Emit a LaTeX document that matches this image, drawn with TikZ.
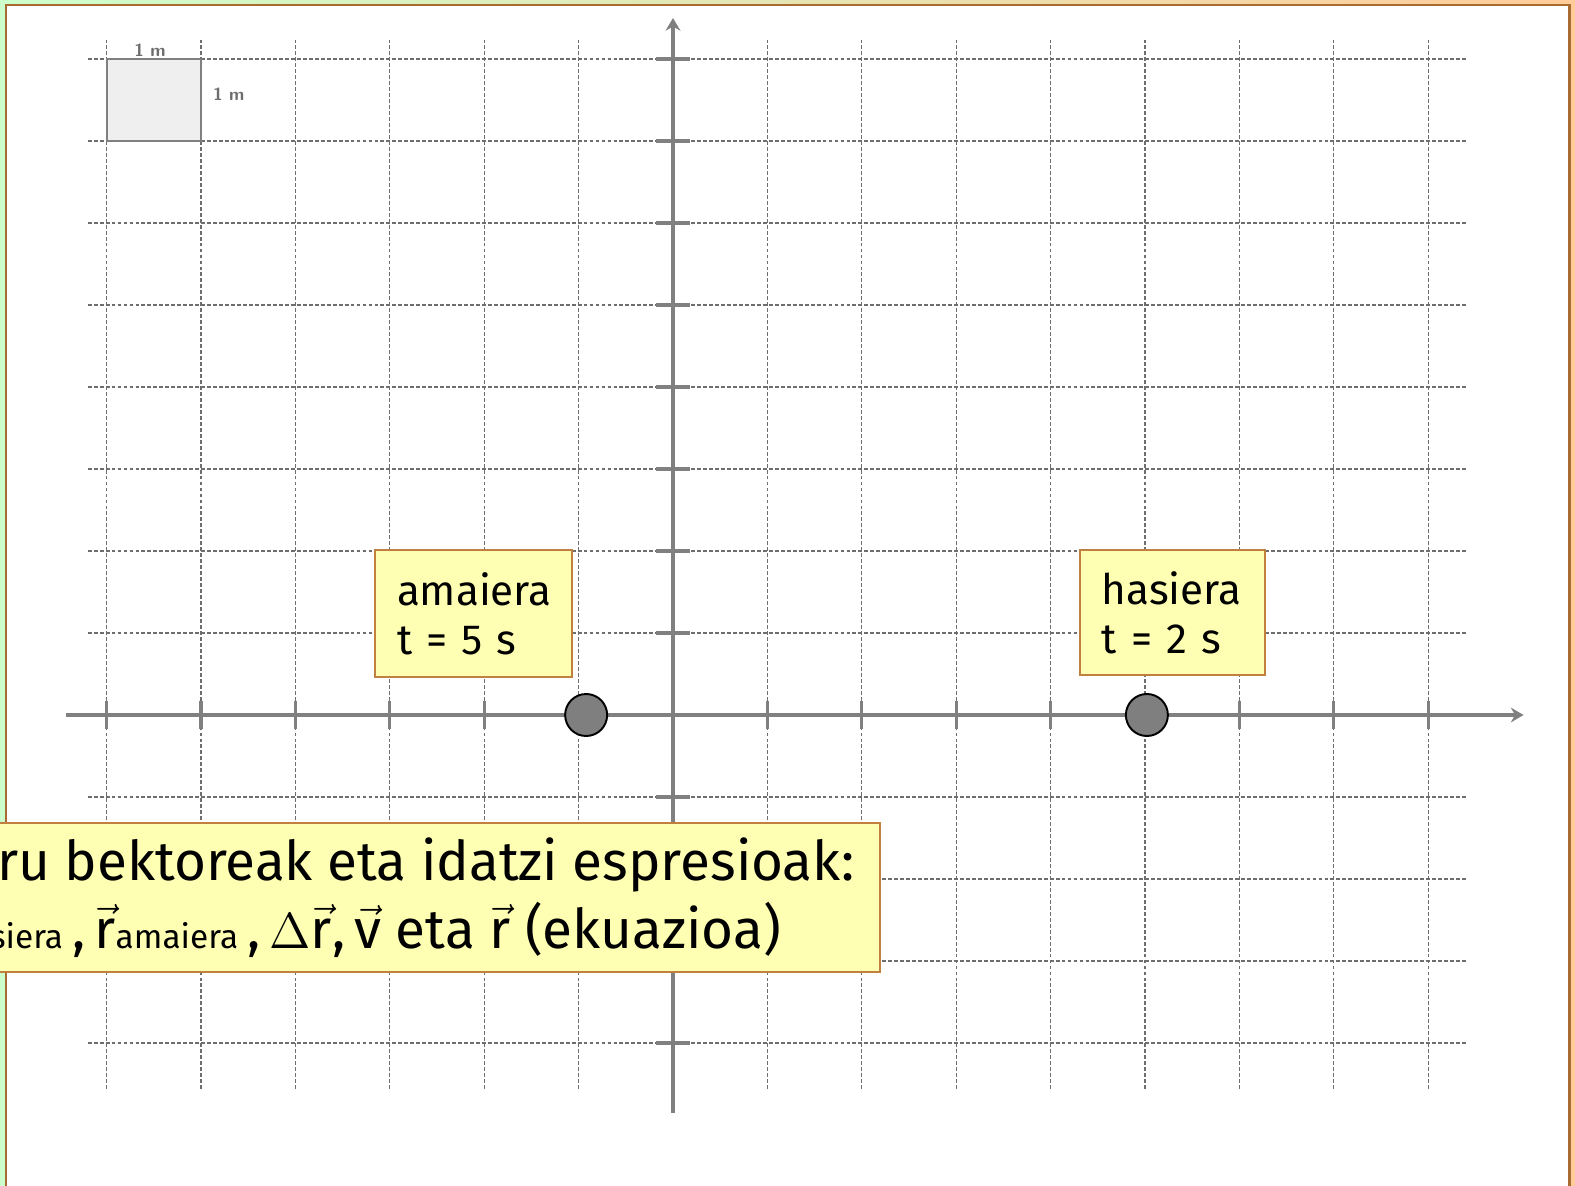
\documentclass[tikz,border=0pt]{standalone}
\usepackage{fontspec}
\setmainfont{Fira Sans}
\usetikzlibrary{arrows.meta, positioning}
\definecolor{bggreen}{RGB}{204,255,204}
\definecolor{bgorange}{RGB}{255,204,153}
\definecolor{framebrown}{RGB}{168,107,50}
\definecolor{gridgray}{RGB}{110,110,110}
\definecolor{axisgray}{RGB}{128,128,128}
\definecolor{dotgray}{RGB}{127,127,127}
\definecolor{boxfill}{RGB}{255,255,180}
\definecolor{boxedge}{RGB}{192,128,64}
\definecolor{unitfill}{RGB}{239,239,239}
\newcommand{\arrowed}[1]{$\vec{\mbox{#1}}$}

\begin{document}
\begin{tikzpicture}[
  gridline/.style={draw=gridgray, line width=0.35pt, dash pattern=on 1.1pt off 0.6pt},
  axisline/.style={draw=axisgray, line width=0.9pt},
  dot/.style={circle, draw=black, line width=0.55pt, fill=dotgray, minimum size=0.42cm, inner sep=0pt},
  tbox/.style={draw=boxedge, fill=boxfill, line width=0.45pt, align=left, inner xsep=0.22cm, font=\fontsize{12}{13.9}\selectfont},
  unitlabel/.style={text=gridgray, font=\sffamily\bfseries\fontsize{5}{6}\selectfont, inner sep=0pt}
]
  \useasboundingbox (0,0) rectangle (15.75,11.85);
  \clip (0,0) rectangle (15.75,11.85);
  \shade[left color=bggreen, right color=bgorange] (0,0) rectangle (15.75,11.85);
  \draw[framebrown, fill=white, line width=0.6pt] (0.06,-0.3) rectangle (15.695,11.80);

  \begin{scope}[shift={(6.73,4.70)}, x=0.944cm, y=0.82cm]
    \foreach \i in {-6,...,8}
      \draw[gridline] (\i,-4.56) -- (\i,8.23);
    \foreach \j in {-4,...,8}
      \draw[gridline] (-6.2,\j) -- (8.41,\j);

    \draw[draw=axisgray, fill=unitfill, line width=0.6pt] (-6,7) rectangle (-5,8);
    \node[unitlabel] (toplabel) at (-5.54,8.11) {1 m};
    \node[unitlabel, anchor=west] (sidelabel) at (-4.88,7.57) {1 m};

    \coordinate (xmin) at (-6.43,0);
    \coordinate (xmax) at (9.01,0);
    \coordinate (ymin) at (0,-4.85);
    \coordinate (ymax) at (0,8.50);
    \draw[axisline, -{Stealth[length=3.6pt, width=4.2pt]}] (xmin) -- (xmax);
    \draw[axisline, -{Stealth[length=3.6pt, width=4.2pt]}] (ymin) -- (ymax);
    \foreach \i in {-6,...,-1,1,2,...,8}
      \draw[axisline] (\i,-0.17) -- (\i,0.17);
    \foreach \j in {-4,...,-1,1,2,...,8}
      \draw[axisline] (-0.18,\j) -- (0.18,\j);

    \node[dot] (pend) at (-0.92,0) {};
    \node[dot] (pstart) at (5.02,0) {};

    \node[tbox, text width=1.53cm, minimum height=1.27cm] (amaiera) at (-2.113,1.238) {amaiera\\t = 5 s};
    \node[tbox, text width=1.41cm, minimum height=1.25cm] (hasiera) at (5.29,1.25) {hasiera\\t = 2 s};

    \node[draw=boxedge, fill=boxfill, line width=0.45pt, align=left, anchor=east,
      inner xsep=0.26cm, minimum height=1.49cm, font=\fontsize{15.6}{19.5}\selectfont] (task) at (2.203,-2.226)
      {ru bektoreak eta idatzi espresioak:\\
       \hspace*{-0.07cm}{\fontsize{9.5}{10}\selectfont siera}\,,\,\arrowed{r}{\fontsize{9.5}{10}\selectfont amaiera}\,,\,$\Delta$\arrowed{r},\,\arrowed{v} eta \arrowed{r} (ekuazioa)};
  \end{scope}
\end{tikzpicture}
\end{document}
